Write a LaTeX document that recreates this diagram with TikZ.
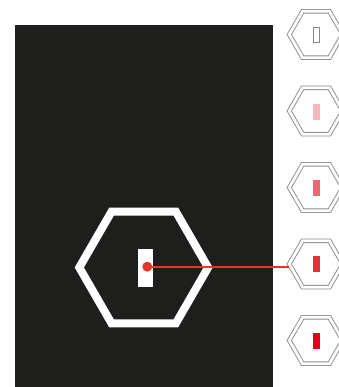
\documentclass[tikz,border=0pt]{standalone}
\usetikzlibrary{shapes.geometric}
\definecolor{bgdark}{HTML}{1E1E1C}
\definecolor{hexgray}{HTML}{8A8A8A}
\definecolor{redline}{HTML}{E4352B}
\definecolor{shadeA}{HTML}{F5B5BA}
\definecolor{shadeB}{HTML}{EA6A74}
\definecolor{shadeC}{HTML}{E2323E}
\definecolor{shadeD}{HTML}{E2001A}
\tikzset{
  smallhex/.style={regular polygon, regular polygon sides=6, minimum size=53.5pt, inner sep=0pt,
    draw=hexgray, line width=0.9pt, double=white, double distance=2.8pt, line join=miter},
  level/.style={rectangle, minimum width=7pt, minimum height=16pt, inner sep=0pt},
  bighex/.style={regular polygon, regular polygon sides=6, minimum size=128.8pt, inner sep=0pt,
    draw=white, line width=8pt, line join=miter},
}
\begin{document}
\begin{tikzpicture}[x=1pt,y=-1pt]
\useasboundingbox (0,0) rectangle (338,387);
\fill[bgdark] (15,25) rectangle (273,387);
\node[bighex] (big) at (143.7,267.5) {};
\node[level, fill=white, minimum width=15pt, minimum height=38pt] (bar) at (145.5,268) {};
\foreach \i/\y in {1/34.5,2/111,3/187.5,4/264,5/340.5}{
  \node[smallhex] (hex\i) at (316,\y) {};
}
\node[level, draw=hexgray, line width=0.9pt, minimum width=6pt, minimum height=15pt] (lv1) at (316.6,35.3) {};
\node[level, fill=shadeA] (lv2) at (316.6,111.8) {};
\node[level, fill=shadeB] (lv3) at (316.6,188) {};
\node[level, fill=shadeC] (lv4) at (316.6,264) {};
\node[level, fill=shadeD] (lv5) at (316.6,340.7) {};
\coordinate (dot) at (147.3,266.7);
\draw[redline, line width=2.2pt] (dot) -- (dot -| hex4.west);
\fill[redline] (dot) circle (5pt);
\end{tikzpicture}
\end{document}
